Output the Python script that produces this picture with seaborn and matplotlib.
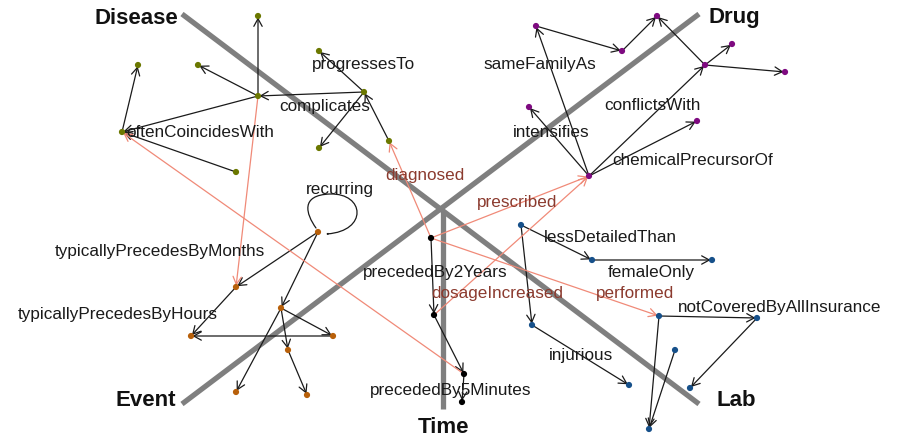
"""
Knowledge-graph style network: five concept groups around a gray X + time axis.
"""

import matplotlib.pyplot as plt
import pandas as pd
import seaborn as sns
from matplotlib.patches import FancyArrowPatch
from matplotlib.path import Path

# nodes (pixel coords of the reference layout)
node_ids = [
    'D1', 'D2', 'D3', 'D4', 'D5', 'D6', 'D7', 'D8', 'D9', 'D10',
    'R1', 'R2', 'R3', 'R4', 'R5', 'R6', 'R7', 'R8', 'R9',
    'T1', 'T2', 'T3', 'T4',
    'E1', 'E2', 'E3', 'E4', 'E5', 'E6', 'E7', 'E8',
    'L1', 'L2', 'L3', 'L4', 'L5', 'L6', 'L7', 'L8', 'L9', 'L10',
]
node_x = [
    258, 138, 198, 258, 319, 364, 122, 236, 319, 389,
    536, 622, 657, 705, 732, 785, 529, 697, 589,
    431, 434, 464, 462,
    318, 236, 281, 191, 333, 288, 236, 307,
    521, 592, 712, 532, 659, 757, 675, 629, 690, 649,
]
node_y = [
    17, 66, 66, 97, 52, 93, 133, 173, 149, 142,
    27, 52, 17, 66, 45, 73, 108, 122, 177,
    239, 316, 375, 403,
    233, 288, 309, 337, 337, 351, 393, 396,
    226, 261, 261, 326, 317, 319, 351, 386, 389, 430,
]
node_group = (['Disease'] * 10 + ['Drug'] * 9 + ['Time'] * 4
              + ['Event'] * 8 + ['Lab'] * 10)

# within-group relations
edge_src = ['D4', 'D4', 'D6', 'D6', 'D6', 'D10', 'D7', 'D4', 'D8',
            'R9', 'R1', 'R2', 'R4', 'R4', 'R4', 'R9', 'R9', 'R9',
            'T1', 'T2', 'T3',
            'E1', 'E1', 'E2', 'E5', 'E3', 'E3', 'E3', 'E6',
            'L1', 'L2', 'L1', 'L4', 'L5', 'L6', 'L5', 'L7']
edge_dst = ['D1', 'D3', 'D4', 'D5', 'D9', 'D6', 'D2', 'D7', 'D7',
            'R1', 'R2', 'R3', 'R3', 'R5', 'R6', 'R4', 'R7', 'R8',
            'T2', 'T3', 'T4',
            'E2', 'E3', 'E4', 'E4', 'E5', 'E6', 'E7', 'E8',
            'L2', 'L3', 'L4', 'L8', 'L6', 'L9', 'L10', 'L10']

# cross-group relations (time -> others)
cross_src = ['T1', 'T1', 'T2', 'T1', 'T3', 'D4']
cross_dst = ['D10', 'R9', 'R9', 'L5', 'D7', 'E2']

# self-loop ("recurring") on event node
loop_node = 'E1'

# edge labels
label_text = ['progressesTo', 'complicates', 'oftenCoincidesWith',
              'sameFamilyAs', 'conflictsWith', 'intensifies', 'chemicalPrecursorOf',
              'recurring', 'typicallyPrecedesByMonths', 'typicallyPrecedesByHours',
              'precededBy2Years', 'precededBy5Minutes',
              'lessDetailedThan', 'femaleOnly', 'notCoveredByAllInsurance', 'injurious']
label_x = [363, 325, 200, 540, 652, 551, 693, 340, 160, 118, 435, 451,
           610, 651, 780, 581]
label_y = [64, 107, 133, 64, 106, 133, 161, 190, 252, 315, 273, 391,
           238, 273, 308, 356]

cross_label_text = ['diagnosed', 'prescribed', 'dosageIncreased', 'performed']
cross_label_x = [425, 517, 497, 635]
cross_label_y = [176, 203, 294, 294]

# gray frame: two diagonals + vertical time axis
axis_x0 = [182, 182, 443]
axis_y0 = [15, 405, 212]
axis_x1 = [699, 699, 443]
axis_y1 = [405, 15, 410]

corner_text = ['Disease', 'Drug', 'Event', 'Lab', 'Time']
corner_x = [178, 708, 176, 716, 443]
corner_y = [18, 18, 401, 401, 428]
corner_ha = ['right', 'left', 'right', 'left', 'center']

group_palette = {
    'Disease': '#6b7800',
    'Drug': '#7e0a80',
    'Time': '#000000',
    'Event': '#b8600a',
    'Lab': '#16508a',
}

FONT = ['Liberation Sans', 'DejaVu Sans']
ARROW = '->,head_length=0.55,head_width=0.3'


def main():
    nodes = pd.DataFrame({'id': node_ids, 'x': node_x, 'y': node_y, 'group': node_group})
    pos = nodes.set_index('id')[['x', 'y']]

    fig = plt.figure(figsize=(8.97, 4.39), dpi=100)
    ax = fig.add_axes([0, 0, 1, 1])
    ax.set_xlim(0, 897)
    ax.set_ylim(439, 0)
    ax.axis('off')

    # gray axes
    for x0, y0, x1, y1 in zip(axis_x0, axis_y0, axis_x1, axis_y1):
        ax.plot([x0, x1], [y0, y1], color='#7f7f7f', lw=3.8,
                solid_capstyle='butt', zorder=1)

    # black edges
    for s, d in zip(edge_src, edge_dst):
        ax.annotate('', xy=tuple(pos.loc[d]), xytext=tuple(pos.loc[s]),
                    arrowprops=dict(arrowstyle=ARROW, color='#1a1a1a', lw=0.9,
                                    shrinkA=1, shrinkB=1), zorder=2)

    # self loop: leaves up-left, circles over the top, comes back in from the right
    ex, ey = pos.loc[loop_node]
    loop = Path([(ex - 2, ey - 4),
                 (ex - 12, ey - 18), (ex - 18, ey - 37), (ex + 12, ey - 38),
                 (ex + 47, ey - 39), (ex + 50, ey - 1), (ex + 8, ey + 2)],
                [Path.MOVETO, Path.CURVE4, Path.CURVE4, Path.CURVE4,
                 Path.CURVE4, Path.CURVE4, Path.CURVE4])
    ax.add_patch(FancyArrowPatch(path=loop, arrowstyle=ARROW,
                                 color='#1a1a1a', lw=0.9, zorder=2))

    # salmon cross edges
    for s, d in zip(cross_src, cross_dst):
        ax.annotate('', xy=tuple(pos.loc[d]), xytext=tuple(pos.loc[s]),
                    arrowprops=dict(arrowstyle=ARROW, color='#f08a78', lw=0.9,
                                    shrinkA=1, shrinkB=1), zorder=2)

    sns.scatterplot(data=nodes, x='x', y='y', hue='group', palette=group_palette,
                    s=20, edgecolor='none', legend=False, ax=ax, zorder=3)
    ax.set_xlabel('')
    ax.set_ylabel('')

    for t, x, y in zip(label_text, label_x, label_y):
        ax.text(x, y, t, ha='center', va='center', fontsize=12.3,
                color='#1a1a1a', family=FONT, zorder=4)
    for t, x, y in zip(cross_label_text, cross_label_x, cross_label_y):
        ax.text(x, y, t, ha='center', va='center', fontsize=12.3,
                color='#8b3a2e', family=FONT, zorder=4)
    for t, x, y, ha in zip(corner_text, corner_x, corner_y, corner_ha):
        ax.text(x, y, t, ha=ha, va='center', fontsize=16, fontweight='bold',
                color='#111111', family=FONT, zorder=4)

    fig.savefig('out.png', dpi=100)
    plt.close(fig)


if __name__ == '__main__':
    main()
